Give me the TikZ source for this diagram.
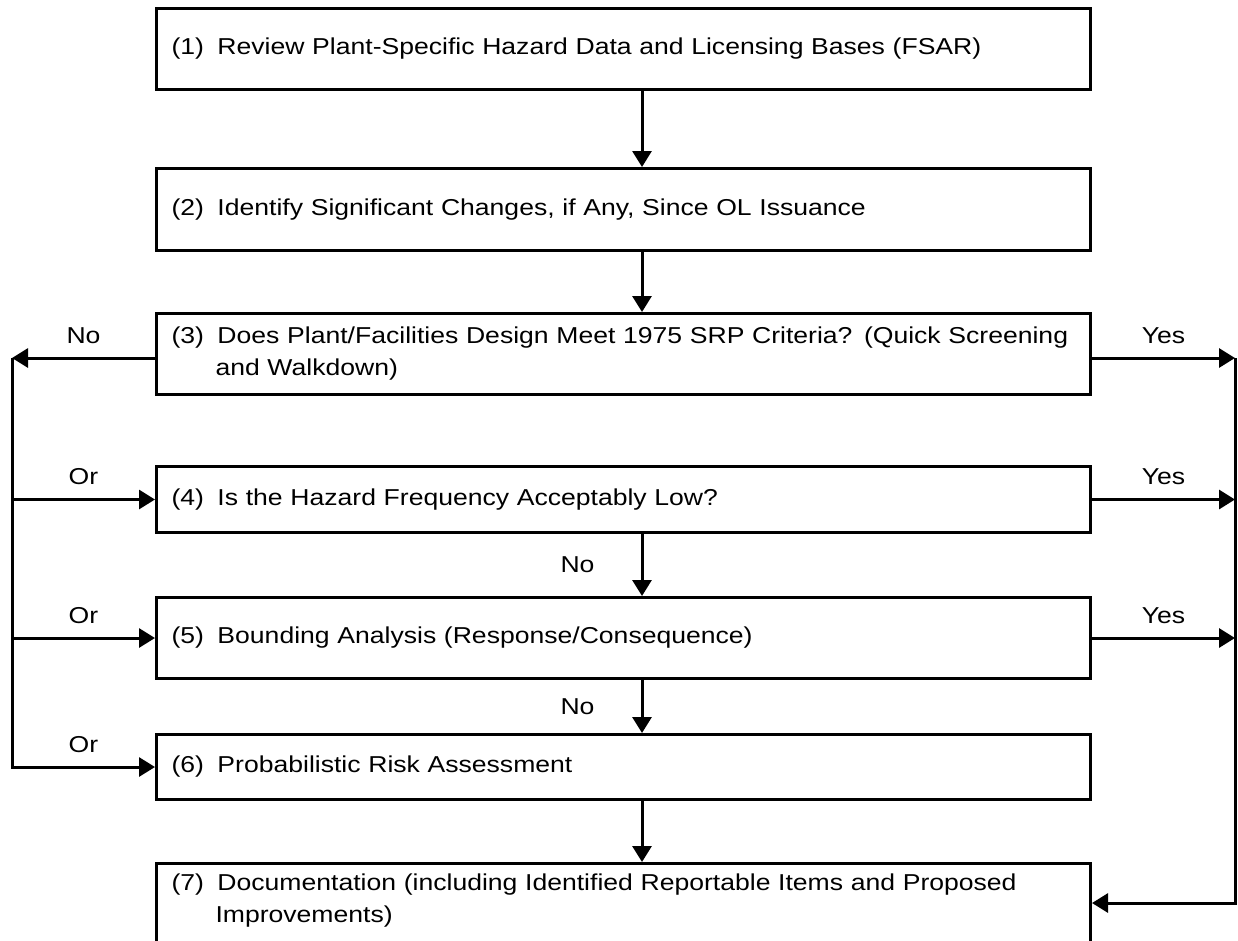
\documentclass[tikz,border=0pt]{standalone}
\usepackage{fontspec}
\setmainfont{Liberation Sans}[FakeStretch=1.155]
\usetikzlibrary{arrows.meta}
\newcommand{\StepT}[2]{\makebox[46pt][l]{#1}\mbox{#2}}
\newcommand{\StepSkip}{\hspace*{44pt}}

\begin{document}
\begin{tikzpicture}[x=1pt,y=-1pt]
	\tikzstyle{boxs} = [draw, line width=3pt, anchor=north west, minimum width=934pt,
		text width=904pt, inner xsep=15pt, align=left, font=\fontsize{23}{32}\selectfont]
	\tikzstyle{line} = [draw, line width=3pt, -{Triangle[length=16pt,width=19pt]}]
	\tikzstyle{lbl} = [font=\fontsize{23}{26}\selectfont, inner sep=0pt]

	\useasboundingbox (0,0) rectangle (1238,940);

	\node(Review)[boxs, minimum height=81pt] at (155,7) {\StepT{(1)}{Review Plant-Specific Hazard Data and Licensing Bases (FSAR)}};
	\node(Identify)[boxs, minimum height=82pt] at (155,167) {\StepT{(2)}{Identify Significant Changes, if Any, Since OL Issuance}};
	\node(Screening)[boxs, minimum height=81pt] at (155,312) {\StepT{(3)}{Does Plant/Facilities Design Meet 1975 SRP Criteria? (Quick Screening}\\\StepSkip and Walkdown)};
	\node(Frequency)[boxs, minimum height=66pt] at (155,465) {\StepT{(4)}{Is the Hazard Frequency Acceptably Low?}};
	\node(Bounding)[boxs, minimum height=81pt] at (155,596) {\StepT{(5)}{Bounding Analysis (Response/Consequence)}};
	\node(PRA)[boxs, minimum height=65pt] at (155,733) {\StepT{(6)}{Probabilistic Risk Assessment}};
	\node(Documentation)[boxs, inner ysep=10pt, text depth=60pt] at (155,862) {\StepT{(7)}{Documentation (including Identified Reportable Items and Proposed}\\\StepSkip Improvements)};

	\coordinate (railL) at (12,0);
	\coordinate (railR) at (1235,0);
	\coordinate (spine) at (642,0);
	\coordinate (noS) at ([yshift=-4pt]Screening.west);
	\coordinate (yesS) at ([yshift=-4pt]Screening.east);
	\coordinate (docIn) at ([yshift=-41pt]Documentation.north east);

	% main chain
	\draw[line] (Review.south -| spine) -- (Identify.north -| spine);
	\draw[line] (Identify.south -| spine) -- (Screening.north -| spine);
	\draw[line] (Frequency.south -| spine) -- (Bounding.north -| spine) node[lbl, midway, left=46pt]{No};
	\draw[line] (Bounding.south -| spine) -- (PRA.north -| spine) node[lbl, midway, left=46pt]{No};
	\draw[line] (PRA.south -| spine) -- (Documentation.north -| spine);

	% left side
	\draw[line] (noS) -- (noS -| railL) node[lbl, midway, above=13pt]{No};
	\draw[line] (noS -| railL) -- (PRA.west -| railL) -- (PRA.west) node[lbl, midway, above=13pt]{Or};
	\draw[line] (Frequency.west -| railL) -- (Frequency.west) node[lbl, midway, above=13pt]{Or};
	\draw[line] (Bounding.west -| railL) -- (Bounding.west) node[lbl, midway, above=13pt]{Or};

	% right side
	\draw[line] (yesS) -- (yesS -| railR) node[lbl, midway, above=13pt]{Yes};
	\draw[line] (Frequency.east) -- (Frequency.east -| railR) node[lbl, midway, above=13pt]{Yes};
	\draw[line] (Bounding.east) -- (Bounding.east -| railR) node[lbl, midway, above=13pt]{Yes};
	\draw[line] (yesS -| railR) -- (docIn -| railR) -- (docIn);
\end{tikzpicture}
\end{document}
